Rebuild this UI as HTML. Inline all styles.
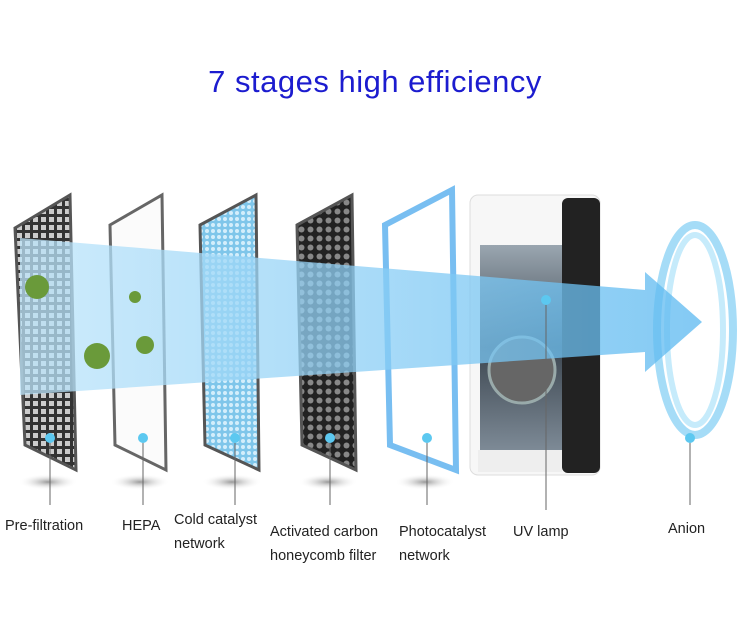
<!DOCTYPE html>
<html><head><meta charset="utf-8"><style>
body{margin:0;background:#fff;}
.w{position:relative;width:750px;height:628px;overflow:hidden;font-family:"Liberation Sans",sans-serif;}
.t{position:absolute;left:0;width:750px;top:64px;text-align:center;font-size:31px;color:#1c1ccf;letter-spacing:0.5px}
.l{position:absolute;font-size:14.5px;color:#222;line-height:24px}
</style></head><body><div class="w">
<div class="t">7 stages high efficiency</div>
<svg width="750" height="628" style="position:absolute;left:0;top:0">
<defs>
<pattern id="g1" width="8" height="8" patternUnits="userSpaceOnUse"><rect width="8" height="8" fill="#333"/><rect x="1" y="1" width="5" height="5" fill="#ccc"/></pattern>
<pattern id="g2" width="6" height="6" patternUnits="userSpaceOnUse"><rect width="6" height="6" fill="#7fc6ea"/><circle cx="3" cy="3" r="2" fill="#d4eefb"/></pattern>
<pattern id="g3" width="9" height="9" patternUnits="userSpaceOnUse"><rect width="9" height="9" fill="#222"/><circle cx="4.5" cy="4.5" r="3" fill="#888"/></pattern>
<radialGradient id="sh"><stop offset="0" stop-color="#999"/><stop offset="1" stop-color="#fff" stop-opacity="0"/></radialGradient>
<linearGradient id="ar" x1="0" x2="1"><stop offset="0" stop-color="#bfe6fb"/><stop offset="1" stop-color="#5ab8f0"/></linearGradient>
<linearGradient id="win" x1="0" y1="0" x2="0" y2="1"><stop offset="0" stop-color="#9aa6b0"/><stop offset="0.5" stop-color="#3c4650"/><stop offset="1" stop-color="#7d8a96"/></linearGradient>
</defs>
<g fill="url(#sh)"><ellipse cx="48" cy="482" rx="30" ry="8"/><ellipse cx="140" cy="482" rx="30" ry="8"/><ellipse cx="232" cy="482" rx="30" ry="8"/><ellipse cx="328" cy="482" rx="30" ry="8"/><ellipse cx="425" cy="482" rx="30" ry="8"/></g>
<polygon points="15,228 70,195 76,470 25,445" fill="url(#g1)" stroke="#555" stroke-width="3"/>
<polygon points="110,225 162,195 166,470 115,445" fill="#fbfbfb" stroke="#666" stroke-width="3"/>
<polygon points="200,225 256,195 259,470 205,445" fill="url(#g2)" stroke="#555" stroke-width="3"/>
<polygon points="297,225 352,195 356,470 302,445" fill="url(#g3)" stroke="#555" stroke-width="3"/>
<polygon points="385,225 452,190 456,470 390,445" fill="#fff" stroke="#6ab8f0" stroke-width="6" opacity="0.9"/>
<rect x="470" y="195" width="130" height="280" rx="8" fill="#f7f7f7" stroke="#ddd"/>
<rect x="562" y="198" width="38" height="275" rx="6" fill="#222"/>
<rect x="480" y="245" width="82" height="205" fill="url(#win)"/>
<circle cx="522" cy="370" r="33" fill="#666" stroke="#9aa" stroke-width="3"/>
<rect x="478" y="450" width="84" height="22" fill="#eee"/>
<ellipse cx="695" cy="330" rx="38" ry="105" fill="none" stroke="#8fd3f5" stroke-width="8" opacity="0.8"/>
<ellipse cx="695" cy="330" rx="28" ry="95" fill="none" stroke="#c6ebfb" stroke-width="6"/>
<polygon points="20,238 645,290 645,272 702,322 645,372 645,352 20,395" fill="url(#ar)" opacity="0.75"/>
<g fill="#6a9a3a"><circle cx="37" cy="287" r="12"/><circle cx="97" cy="356" r="13"/><circle cx="145" cy="345" r="9"/><circle cx="135" cy="297" r="6"/></g>
<g stroke="#666" stroke-width="1"><line x1="50" y1="438" x2="50" y2="505"/><line x1="143" y1="438" x2="143" y2="505"/><line x1="235" y1="438" x2="235" y2="505"/><line x1="330" y1="438" x2="330" y2="505"/><line x1="427" y1="438" x2="427" y2="505"/><line x1="546" y1="300" x2="546" y2="510"/><line x1="690" y1="438" x2="690" y2="505"/></g>
<g fill="#5cc8f0"><circle cx="50" cy="438" r="5"/><circle cx="143" cy="438" r="5"/><circle cx="235" cy="438" r="5"/><circle cx="330" cy="438" r="5"/><circle cx="427" cy="438" r="5"/><circle cx="546" cy="300" r="5"/><circle cx="690" cy="438" r="5"/></g>
</svg>
<div class="l" style="left:5px;top:514px">Pre-filtration</div>
<div class="l" style="left:122px;top:514px">HEPA</div>
<div class="l" style="left:174px;top:508px">Cold catalyst<br>network</div>
<div class="l" style="left:270px;top:520px">Activated carbon<br>honeycomb filter</div>
<div class="l" style="left:399px;top:520px">Photocatalyst<br>network</div>
<div class="l" style="left:513px;top:520px">UV lamp</div>
<div class="l" style="left:668px;top:517px">Anion</div>
</div></body></html>
